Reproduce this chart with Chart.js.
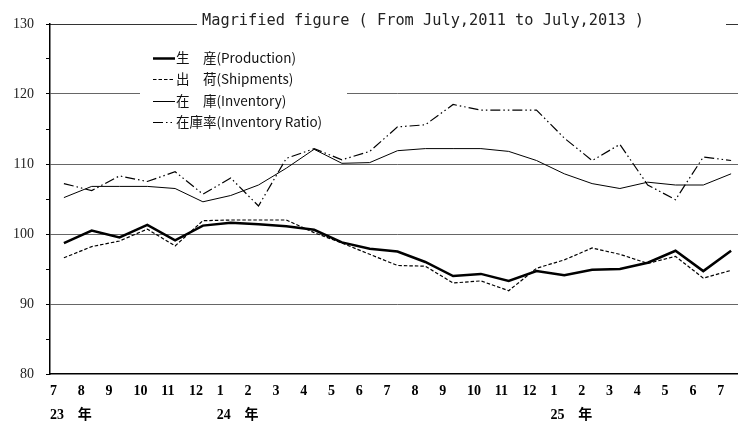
<!DOCTYPE html>
<html>
<head>
<meta charset="utf-8">
<script src="https://cdn.jsdelivr.net/npm/chart.js@4/dist/chart.umd.min.js"></script>
<style>
  html, body { margin: 0; padding: 0; overflow: hidden; background: #fff; }
  canvas { display: block; }
</style>
</head>
<body>
<canvas id="c" width="760" height="427"></canvas>
<script>
// month ticks (July 2011 .. July 2013) and the year row under them
const months = ['7','8','9','10','11','12','1','2','3','4','5','6','7','8','9','10','11','12','1','2','3','4','5','6','7'];
const yearRow = ['23','年','','','','','24','年','','','','','','','','','','','25','年','','','','',''];

const production = [98.7,100.5,99.5,101.3,99.1,101.2,101.6,101.4,101.1,100.6,98.8,97.9,97.5,96.0,94.0,94.3,93.3,94.7,94.1,94.9,95.0,95.9,97.6,94.7,97.6];
const shipments  = [96.6,98.2,99.0,100.7,98.3,101.9,102.0,102.0,102.0,100.2,98.7,97.1,95.5,95.4,93.0,93.3,91.9,95.1,96.3,98.0,97.1,95.8,96.8,93.7,94.8];
const inventory  = [105.2,106.8,106.8,106.8,106.5,104.6,105.5,107.0,109.4,112.1,110.1,110.2,111.9,112.2,112.2,112.2,111.8,110.5,108.6,107.2,106.5,107.4,107.0,107.0,108.6];
const invRatio   = [107.2,106.2,108.3,107.5,108.9,105.7,108.0,104.0,110.8,112.2,110.6,111.8,115.3,115.6,118.5,117.7,117.7,117.7,113.7,110.5,112.8,107.0,104.9,111.0,110.5];

const seriesNames = ['生\u3000産(Production)', '出\u3000荷(Shipments)', '在\u3000庫(Inventory)', '在庫率(Inventory Ratio)'];
const titleText = 'Magrified figure ( From July,2011 to July,2013 )';

// title + legend sit on white boxes over the grid, like the original
const overlay = {
  id: 'overlay',
  afterDraw(chart) {
    const ctx = chart.ctx;
    ctx.save();
    ctx.fillStyle = '#fff';
    ctx.fillRect(197, 8, 529, 24);
    ctx.fillStyle = '#222';
    ctx.font = '15.3px "DejaVu Sans Mono", monospace';
    ctx.textBaseline = 'alphabetic';
    ctx.fillText(titleText, 202, 25);

    ctx.fillStyle = '#fff';
    ctx.fillRect(140, 46, 207, 86);
    ctx.font = '13.5px "Noto Sans CJK JP", sans-serif';
    ctx.textBaseline = 'middle';
    chart.data.datasets.forEach((ds, i) => {
      const y = 58 + i * 21.3;
      ctx.strokeStyle = '#000';
      ctx.lineWidth = ds.borderWidth;
      ctx.setLineDash(ds.borderDash || []);
      ctx.beginPath();
      ctx.moveTo(153, Math.round(y) + 0.5);
      ctx.lineTo(175, Math.round(y) + 0.5);
      ctx.stroke();
      ctx.setLineDash([]);
      ctx.fillStyle = '#111';
      ctx.fillText(ds.label, 176, y);
    });
    ctx.restore();
  }
};

const line = (label, data, width, dash) => ({
  label, data,
  borderColor: '#000', borderWidth: width, borderDash: dash,
  pointRadius: 0, tension: 0, fill: false, xAxisID: 'x', yAxisID: 'y'
});

new Chart(document.getElementById('c'), {
  type: 'line',
  data: {
    labels: months,
    datasets: [
      line(seriesNames[0], production, 2.5, []),
      line(seriesNames[1], shipments, 1.2, [3.5, 2]),
      line(seriesNames[2], inventory, 1, []),
      line(seriesNames[3], invRatio, 1.2, [10, 3, 1.5, 3, 1.5, 3])
    ]
  },
  options: {
    responsive: false,
    animation: false,
    devicePixelRatio: 1,
    layout: { padding: { left: 0, top: 24, right: 15, bottom: 0 } },
    plugins: { legend: { display: false }, tooltip: { enabled: false } },
    scales: {
      x: { type: 'category', offset: true, display: false },
      // empty top axis: only its border, the 130 frame line
      xtop: {
        type: 'linear', position: 'top', min: 0, max: 25,
        afterFit: s => { s.height = 0; },
        grid: { display: false, tickLength: 0 },
        border: { display: true, color: '#333', width: 1 },
        ticks: { display: false }
      },
      xt: {
        type: 'linear', position: 'bottom', min: 0, max: 25,
        afterBuildTicks: s => { s.ticks = months.map((m, i) => ({ value: i })); },
        afterFit: s => { s.height = 53; },
        grid: { display: false, tickLength: 0 },
        border: { display: true, color: '#000', width: 1.5 },
        ticks: {
          autoSkip: false, maxRotation: 0, minRotation: 0, align: 'start', padding: 5,
          color: '#000',
          font: { family: '"Liberation Serif", "Noto Sans CJK JP", serif', size: 14, weight: 'bold', lineHeight: 1.75 },
          callback: (v, i) => [months[i], yearRow[i]]
        }
      },
      y: {
        min: 80, max: 130,
        afterFit: s => { s.width = 50; },
        border: { color: '#000', width: 1.5 },
        grid: {
          color: c => {
            const v = c.tick.value;
            if (v === 130) return '#333';
            return (v % 10 === 0 && v > 80) ? '#666' : 'rgba(0,0,0,0)';
          },
          tickColor: '#000', tickLength: 4, lineWidth: 1
        },
        ticks: {
          stepSize: 5, padding: 12, color: '#222',
          font: { family: '"Liberation Serif", serif', size: 14 },
          callback: v => (v % 10 === 0 ? v : '')
        }
      }
    }
  },
  plugins: [overlay]
});
</script>
</body>
</html>
